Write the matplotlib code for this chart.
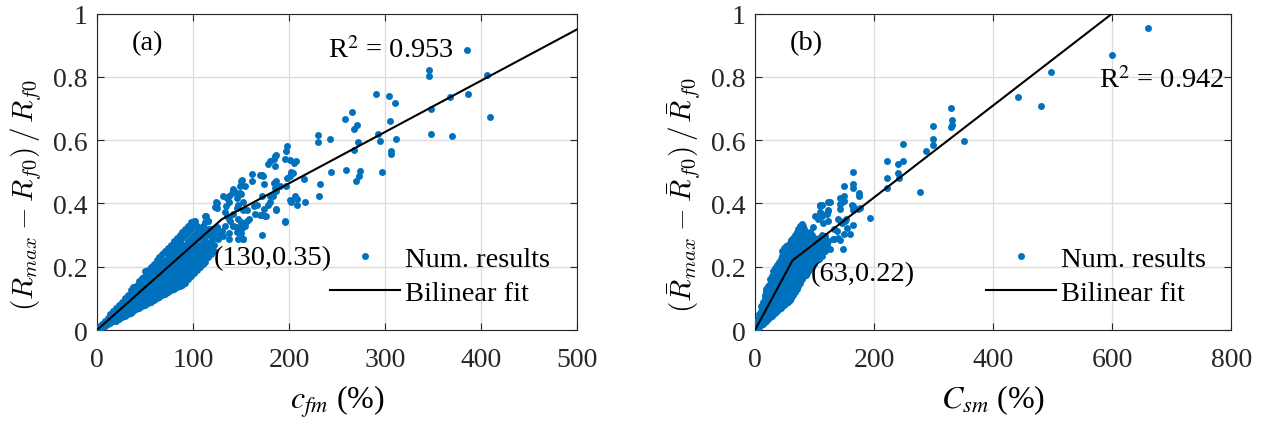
import matplotlib
matplotlib.use("Agg")
import matplotlib.pyplot as plt
from matplotlib.ticker import FormatStrFormatter

plt.rcParams['font.family'] = ['Liberation Serif', 'DejaVu Serif']
plt.rcParams['axes.edgecolor'] = '#262626'
plt.rcParams['xtick.color'] = '#262626'
plt.rcParams['ytick.color'] = '#262626'

BLUE = '#0072BD'

# ---- panel (a): c_fm vs normalised R ----
# dense cloud, columns of (x, [y values])
a_dense = [
    (1, [0.0, 0.005]), (3, [0.005, 0.012]), (5, [0.008, 0.015, 0.02]),
    (8, [0.012, 0.022, 0.03]), (11, [0.018, 0.028, 0.038]),
    (14, [0.022, 0.033, 0.045, 0.05]), (17, [0.027, 0.04, 0.052, 0.06]),
    (20, [0.03, 0.045, 0.058, 0.07]), (23, [0.035, 0.05, 0.065, 0.078]),
    (26, [0.04, 0.055, 0.07, 0.085, 0.09]), (29, [0.045, 0.06, 0.075, 0.09, 0.1]),
    (32, [0.05, 0.065, 0.08, 0.095, 0.11]),
    (35, [0.055, 0.07, 0.085, 0.1, 0.115, 0.125]),
    (38, [0.06, 0.075, 0.09, 0.105, 0.12, 0.135]),
    (41, [0.065, 0.08, 0.095, 0.11, 0.125, 0.14]),
    (44, [0.07, 0.085, 0.1, 0.115, 0.13, 0.145, 0.155]),
    (47, [0.075, 0.09, 0.105, 0.12, 0.135, 0.15, 0.165]),
    (50, [0.08, 0.095, 0.11, 0.125, 0.14, 0.155, 0.17, 0.185]),
    (53, [0.085, 0.1, 0.115, 0.13, 0.145, 0.16, 0.175, 0.19]),
    (56, [0.09, 0.105, 0.12, 0.135, 0.15, 0.165, 0.18, 0.2]),
    (59, [0.095, 0.11, 0.125, 0.14, 0.155, 0.17, 0.185, 0.21]),
    (62, [0.1, 0.115, 0.13, 0.145, 0.16, 0.175, 0.19, 0.205, 0.22]),
    (65, [0.105, 0.12, 0.135, 0.15, 0.165, 0.18, 0.195, 0.21, 0.23]),
    (68, [0.11, 0.125, 0.14, 0.155, 0.17, 0.185, 0.2, 0.215, 0.24]),
    (71, [0.115, 0.13, 0.145, 0.16, 0.175, 0.19, 0.205, 0.22, 0.25]),
    (74, [0.12, 0.135, 0.15, 0.165, 0.18, 0.195, 0.21, 0.225, 0.24, 0.26]),
    (77, [0.125, 0.14, 0.155, 0.17, 0.185, 0.2, 0.215, 0.23, 0.25, 0.27]),
    (80, [0.13, 0.15, 0.165, 0.18, 0.195, 0.21, 0.225, 0.24, 0.26, 0.28]),
    (83, [0.135, 0.155, 0.17, 0.185, 0.2, 0.215, 0.23, 0.245, 0.265, 0.29]),
    (86, [0.14, 0.16, 0.175, 0.19, 0.205, 0.22, 0.24, 0.26, 0.28, 0.3]),
    (89, [0.142, 0.165, 0.18, 0.195, 0.21, 0.225, 0.245, 0.265, 0.29, 0.31]),
    (92, [0.15, 0.17, 0.185, 0.2, 0.215, 0.23, 0.25, 0.27, 0.3, 0.32]),
    (95, [0.16, 0.18, 0.195, 0.21, 0.225, 0.24, 0.26, 0.28, 0.31, 0.33]),
    (98, [0.17, 0.19, 0.205, 0.22, 0.235, 0.25, 0.27, 0.29, 0.32, 0.34]),
    (101, [0.18, 0.2, 0.215, 0.23, 0.245, 0.26, 0.28, 0.3, 0.33, 0.345]),
    (104, [0.19, 0.21, 0.225, 0.24, 0.255, 0.27, 0.29, 0.31, 0.33]),
    (107, [0.2, 0.22, 0.235, 0.25, 0.27, 0.29, 0.31, 0.32]),
    (110, [0.21, 0.23, 0.25, 0.27, 0.29, 0.31, 0.33]),
    (113, [0.215, 0.24, 0.26, 0.28, 0.3, 0.34, 0.36]),
    (116, [0.23, 0.255, 0.275, 0.3, 0.32, 0.345]),
    (119, [0.24, 0.26, 0.28, 0.3, 0.32]),
    (122, [0.25, 0.27, 0.29, 0.31]),
]

# scattered points beyond the dense cloud
a_sparse = [
    (385, 0.884), (346, 0.821), (346, 0.803), (368, 0.735), (387, 0.747),
    (406, 0.807), (409, 0.674), (348, 0.698), (348, 0.619), (370, 0.614),
    (291, 0.747), (304, 0.74), (310, 0.716), (305, 0.66), (293, 0.619),
    (295, 0.598), (312, 0.605), (306, 0.566), (306, 0.557), (297, 0.498),
    (266, 0.689), (258, 0.666), (271, 0.647), (268, 0.635), (272, 0.595),
    (268, 0.569), (274, 0.503), (273, 0.487), (270, 0.472), (259, 0.506),
    (244, 0.5), (243, 0.603), (230, 0.616), (230, 0.593), (232, 0.461),
    (231, 0.424), (217, 0.403), (216, 0.477), (205, 0.529), (202, 0.5),
    (201, 0.487), (198, 0.582), (197, 0.566), (196, 0.54), (197, 0.456),
    (208, 0.414), (202, 0.405), (208, 0.395), (196, 0.342), (186, 0.553),
    (184, 0.54), (178, 0.526), (185, 0.519), (184, 0.466), (186, 0.445),
    (180, 0.424), (174, 0.461), (172, 0.49), (162, 0.493), (162, 0.472),
    (172, 0.424), (164, 0.393), (174, 0.382), (186, 0.38), (170, 0.363),
    (176, 0.361), (172, 0.301), (150, 0.472), (154, 0.456), (142, 0.445),
    (144, 0.435), (150, 0.43), (138, 0.424), (152, 0.403), (146, 0.387),
    (156, 0.38), (158, 0.351), (137, 0.403), (134, 0.393), (124, 0.403),
    (125, 0.387), (133, 0.372), (138, 0.351), (142, 0.329), (150, 0.34),
    (150, 0.308), (152, 0.287), (138, 0.308), (137, 0.287), (127, 0.308),
    (126, 0.287), (114, 0.361), (116, 0.345), (102, 0.345),
    (180, 0.533), (185, 0.549), (201, 0.537), (207, 0.533), (204, 0.495),
    (198, 0.479), (170, 0.489), (173, 0.486), (187, 0.47), (191, 0.454),
    (151, 0.473), (149, 0.454), (141, 0.432), (131, 0.425), (135, 0.416),
    (125, 0.4), (123, 0.39), (149, 0.432), (146, 0.416), (147, 0.394),
    (152, 0.378), (167, 0.394), (165, 0.368), (172, 0.362), (175, 0.359),
    (156, 0.343), (187, 0.384), (180, 0.406), (178, 0.394), (196, 0.346),
    (201, 0.41), (206, 0.422), (183, 0.425), (187, 0.438), (185, 0.448),
    (142, 0.368), (147, 0.352), (151, 0.337), (154, 0.33), (146, 0.327),
    (135, 0.359), (139, 0.343), (133, 0.33), (125, 0.327), (130, 0.314),
    (123, 0.311), (131, 0.298), (142, 0.33), (146, 0.311), (151, 0.321),
    (152, 0.289), (147, 0.289),
]

a_fit_x = [0, 130, 500]
a_fit_y = [0, 0.35, 0.95]

# ---- panel (b): C_sm vs normalised mean R ----
b_dense = [
    (1, [0.0, 0.01]), (4, [0.005, 0.02, 0.03]), (7, [0.01, 0.025, 0.04, 0.05]),
    (10, [0.015, 0.03, 0.045, 0.06, 0.075]),
    (13, [0.02, 0.035, 0.05, 0.065, 0.08, 0.09]),
    (16, [0.025, 0.04, 0.055, 0.07, 0.085, 0.1, 0.11]),
    (19, [0.03, 0.045, 0.06, 0.075, 0.09, 0.105, 0.12, 0.13]),
    (22, [0.035, 0.05, 0.065, 0.08, 0.095, 0.11, 0.125, 0.14]),
    (25, [0.04, 0.055, 0.07, 0.085, 0.1, 0.115, 0.13, 0.145, 0.16]),
    (28, [0.045, 0.06, 0.075, 0.09, 0.105, 0.12, 0.135, 0.15, 0.17]),
    (31, [0.05, 0.065, 0.08, 0.095, 0.11, 0.125, 0.14, 0.155, 0.17, 0.185]),
    (34, [0.055, 0.07, 0.085, 0.1, 0.115, 0.13, 0.145, 0.16, 0.175, 0.195]),
    (37, [0.06, 0.075, 0.09, 0.105, 0.12, 0.135, 0.15, 0.165, 0.18, 0.205]),
    (40, [0.065, 0.08, 0.095, 0.11, 0.125, 0.14, 0.155, 0.17, 0.19, 0.215]),
    (43, [0.07, 0.085, 0.1, 0.115, 0.13, 0.145, 0.16, 0.18, 0.2, 0.225]),
    (46, [0.075, 0.09, 0.105, 0.12, 0.135, 0.15, 0.165, 0.185, 0.21, 0.235, 0.25]),
    (49, [0.08, 0.095, 0.11, 0.125, 0.14, 0.155, 0.175, 0.195, 0.22, 0.245, 0.26]),
    (52, [0.085, 0.1, 0.115, 0.13, 0.145, 0.16, 0.18, 0.2, 0.225, 0.25, 0.265]),
    (55, [0.09, 0.105, 0.12, 0.135, 0.15, 0.17, 0.19, 0.21, 0.23, 0.255, 0.27]),
    (58, [0.095, 0.11, 0.125, 0.14, 0.16, 0.18, 0.2, 0.22, 0.24, 0.26, 0.275]),
    (61, [0.1, 0.115, 0.13, 0.15, 0.17, 0.19, 0.21, 0.23, 0.25, 0.27, 0.285]),
    (64, [0.11, 0.125, 0.14, 0.16, 0.18, 0.2, 0.22, 0.24, 0.26, 0.28, 0.29]),
    (67, [0.12, 0.135, 0.15, 0.17, 0.19, 0.21, 0.23, 0.25, 0.27, 0.29, 0.3]),
    (70, [0.13, 0.145, 0.16, 0.18, 0.2, 0.22, 0.24, 0.26, 0.28, 0.3, 0.31]),
    (73, [0.14, 0.155, 0.17, 0.19, 0.21, 0.23, 0.25, 0.27, 0.29, 0.31, 0.32]),
    (76, [0.15, 0.165, 0.18, 0.2, 0.22, 0.24, 0.26, 0.28, 0.3, 0.32, 0.33]),
    (79, [0.16, 0.175, 0.19, 0.21, 0.23, 0.25, 0.27, 0.29, 0.31, 0.335]),
    (82, [0.17, 0.185, 0.2, 0.22, 0.24, 0.26, 0.28, 0.3, 0.32]),
    (85, [0.175, 0.19, 0.21, 0.23, 0.25, 0.27, 0.29, 0.31]),
    (88, [0.18, 0.2, 0.22, 0.24, 0.26, 0.28, 0.3]),
    (91, [0.19, 0.21, 0.23, 0.25, 0.27, 0.29]),
    (95, [0.2, 0.22, 0.24, 0.26, 0.28, 0.3]),
    (99, [0.21, 0.23, 0.25, 0.27, 0.29]),
    (103, [0.22, 0.24, 0.26, 0.28]),
    (107, [0.225, 0.25, 0.27, 0.29]),
    (112, [0.235, 0.26, 0.28, 0.3]),
    (117, [0.25, 0.27, 0.29]),
    (122, [0.26, 0.28]),
]

b_sparse = [
    (661, 0.953), (599, 0.868), (497, 0.817), (442, 0.738), (480, 0.708),
    (330, 0.703), (331, 0.663), (331, 0.648), (329, 0.641), (351, 0.598),
    (299, 0.644), (299, 0.604), (299, 0.586), (287, 0.565), (277, 0.435),
    (249, 0.587), (249, 0.533), (240, 0.524), (240, 0.495), (242, 0.479),
    (222, 0.533), (222, 0.482), (222, 0.45), (193, 0.355),
    (175, 0.433), (175, 0.422), (165, 0.498), (165, 0.463), (165, 0.448),
    (165, 0.393), (165, 0.333), (173, 0.384), (177, 0.387), (149, 0.424),
    (149, 0.408), (150, 0.454), (143, 0.398), (142, 0.418), (153, 0.351),
    (149, 0.303), (123, 0.406), (123, 0.377), (110, 0.393), (110, 0.372),
    (100, 0.359), (98, 0.324), (133, 0.319), (133, 0.287), (140, 0.292),
    (120, 0.266), (148, 0.416), (146, 0.406), (143, 0.384), (126, 0.406),
    (123, 0.378), (113, 0.394), (163, 0.394), (165, 0.378), (151, 0.346),
    (143, 0.346), (121, 0.368), (113, 0.359), (123, 0.343), (114, 0.337),
    (109, 0.394), (113, 0.368), (106, 0.352), (139, 0.352), (146, 0.337),
    (155, 0.321), (160, 0.305), (138, 0.314), (131, 0.289), (118, 0.298),
    (121, 0.273), (143, 0.283), (148, 0.257), (126, 0.257), (81, 0.33),
    (92, 0.311), (95, 0.279), (104, 0.257), (109, 0.235), (101, 0.219),
]

b_fit_x = [0, 63, 600]
b_fit_y = [0, 0.22, 1.0]


def unpack(dense, sparse):
    xs, ys = [], []
    for x, col in dense:
        for y in col:
            xs.append(x)
            ys.append(y)
    for x, y in sparse:
        xs.append(x)
        ys.append(y)
    return xs, ys


def style_axes(ax, xmax, xstep):
    ax.set_xlim(0, xmax)
    ax.set_ylim(0, 1)
    ax.set_xticks(range(0, xmax + 1, xstep))
    ax.set_yticks([0, 0.2, 0.4, 0.6, 0.8, 1])
    ax.yaxis.set_major_formatter(FormatStrFormatter('%g'))
    ax.grid(True, color='#dcdcdc', linewidth=1.0)
    ax.set_axisbelow(True)
    ax.tick_params(direction='in', length=5, width=0.8, top=True, right=True,
                   labelsize=20)
    ax.tick_params(axis='x', pad=12)
    ax.tick_params(axis='y', pad=7)
    for sp in ax.spines.values():
        sp.set_linewidth(0.8)


fig = plt.figure(figsize=(12.63, 4.27), dpi=100)
ax_a = fig.add_axes([0.0768, 0.2248, 0.380, 0.741])
ax_b = fig.add_axes([0.5978, 0.2248, 0.377, 0.741])

panels = [
    (ax_a, a_dense, a_sparse, a_fit_x, a_fit_y, 500, 100,
     r'$(R_{max}\:-\:R_{f0})\,/\,R_{f0}$', r'$c_{fm}$', '(a)', (36.5, 0.908),
     'R$^2$ = 0.953', (241, 0.887), '(130,0.35)', (122, 0.229)),
    (ax_b, b_dense, b_sparse, b_fit_x, b_fit_y, 800, 200,
     r'$(\bar{R}_{max}\:-\:\bar{R}_{f0})\,/\,\bar{R}_{f0}$', r'$C_{sm}$', '(b)', (58.7, 0.908),
     'R$^2$ = 0.942', (578, 0.793), '(63,0.22)', (93, 0.177)),
]

for (ax, dense, sparse, fx, fy, xmax, xstep, ylab, xsym, tag, tag_xy,
     r2, r2_xy, brk, brk_xy) in panels:
    xs, ys = unpack(dense, sparse)
    ax.plot(xs, ys, 'o', color=BLUE, markersize=5, markeredgewidth=0,
            label='Num. results', zorder=3)
    ax.plot(fx, fy, '-', color='black', linewidth=1.5, label='Bilinear fit', zorder=4)
    style_axes(ax, xmax, xstep)

    ax.set_ylabel(ylab, fontsize=21, math_fontfamily='cm')
    ax.yaxis.set_label_coords(-0.11, 0.43)
    ax.set_xlabel(xsym + ' (%)', fontsize=23, math_fontfamily='stix', labelpad=8)

    ax.text(tag_xy[0], tag_xy[1], tag, fontsize=20.5, va='center', ha='left')
    ax.text(r2_xy[0], r2_xy[1], r2, fontsize=20.5, va='center', ha='left',
            math_fontfamily='stix')
    ax.text(brk_xy[0], brk_xy[1], brk, fontsize=20.5, va='center', ha='left', zorder=5)

    ax.legend(loc='lower left', bbox_to_anchor=(0.485, 0.075), frameon=False,
              fontsize=20.5, numpoints=1, handlelength=2.45, handletextpad=0.2,
              labelspacing=0.3, borderpad=0, borderaxespad=0)

fig.savefig('out.png', dpi=100)
